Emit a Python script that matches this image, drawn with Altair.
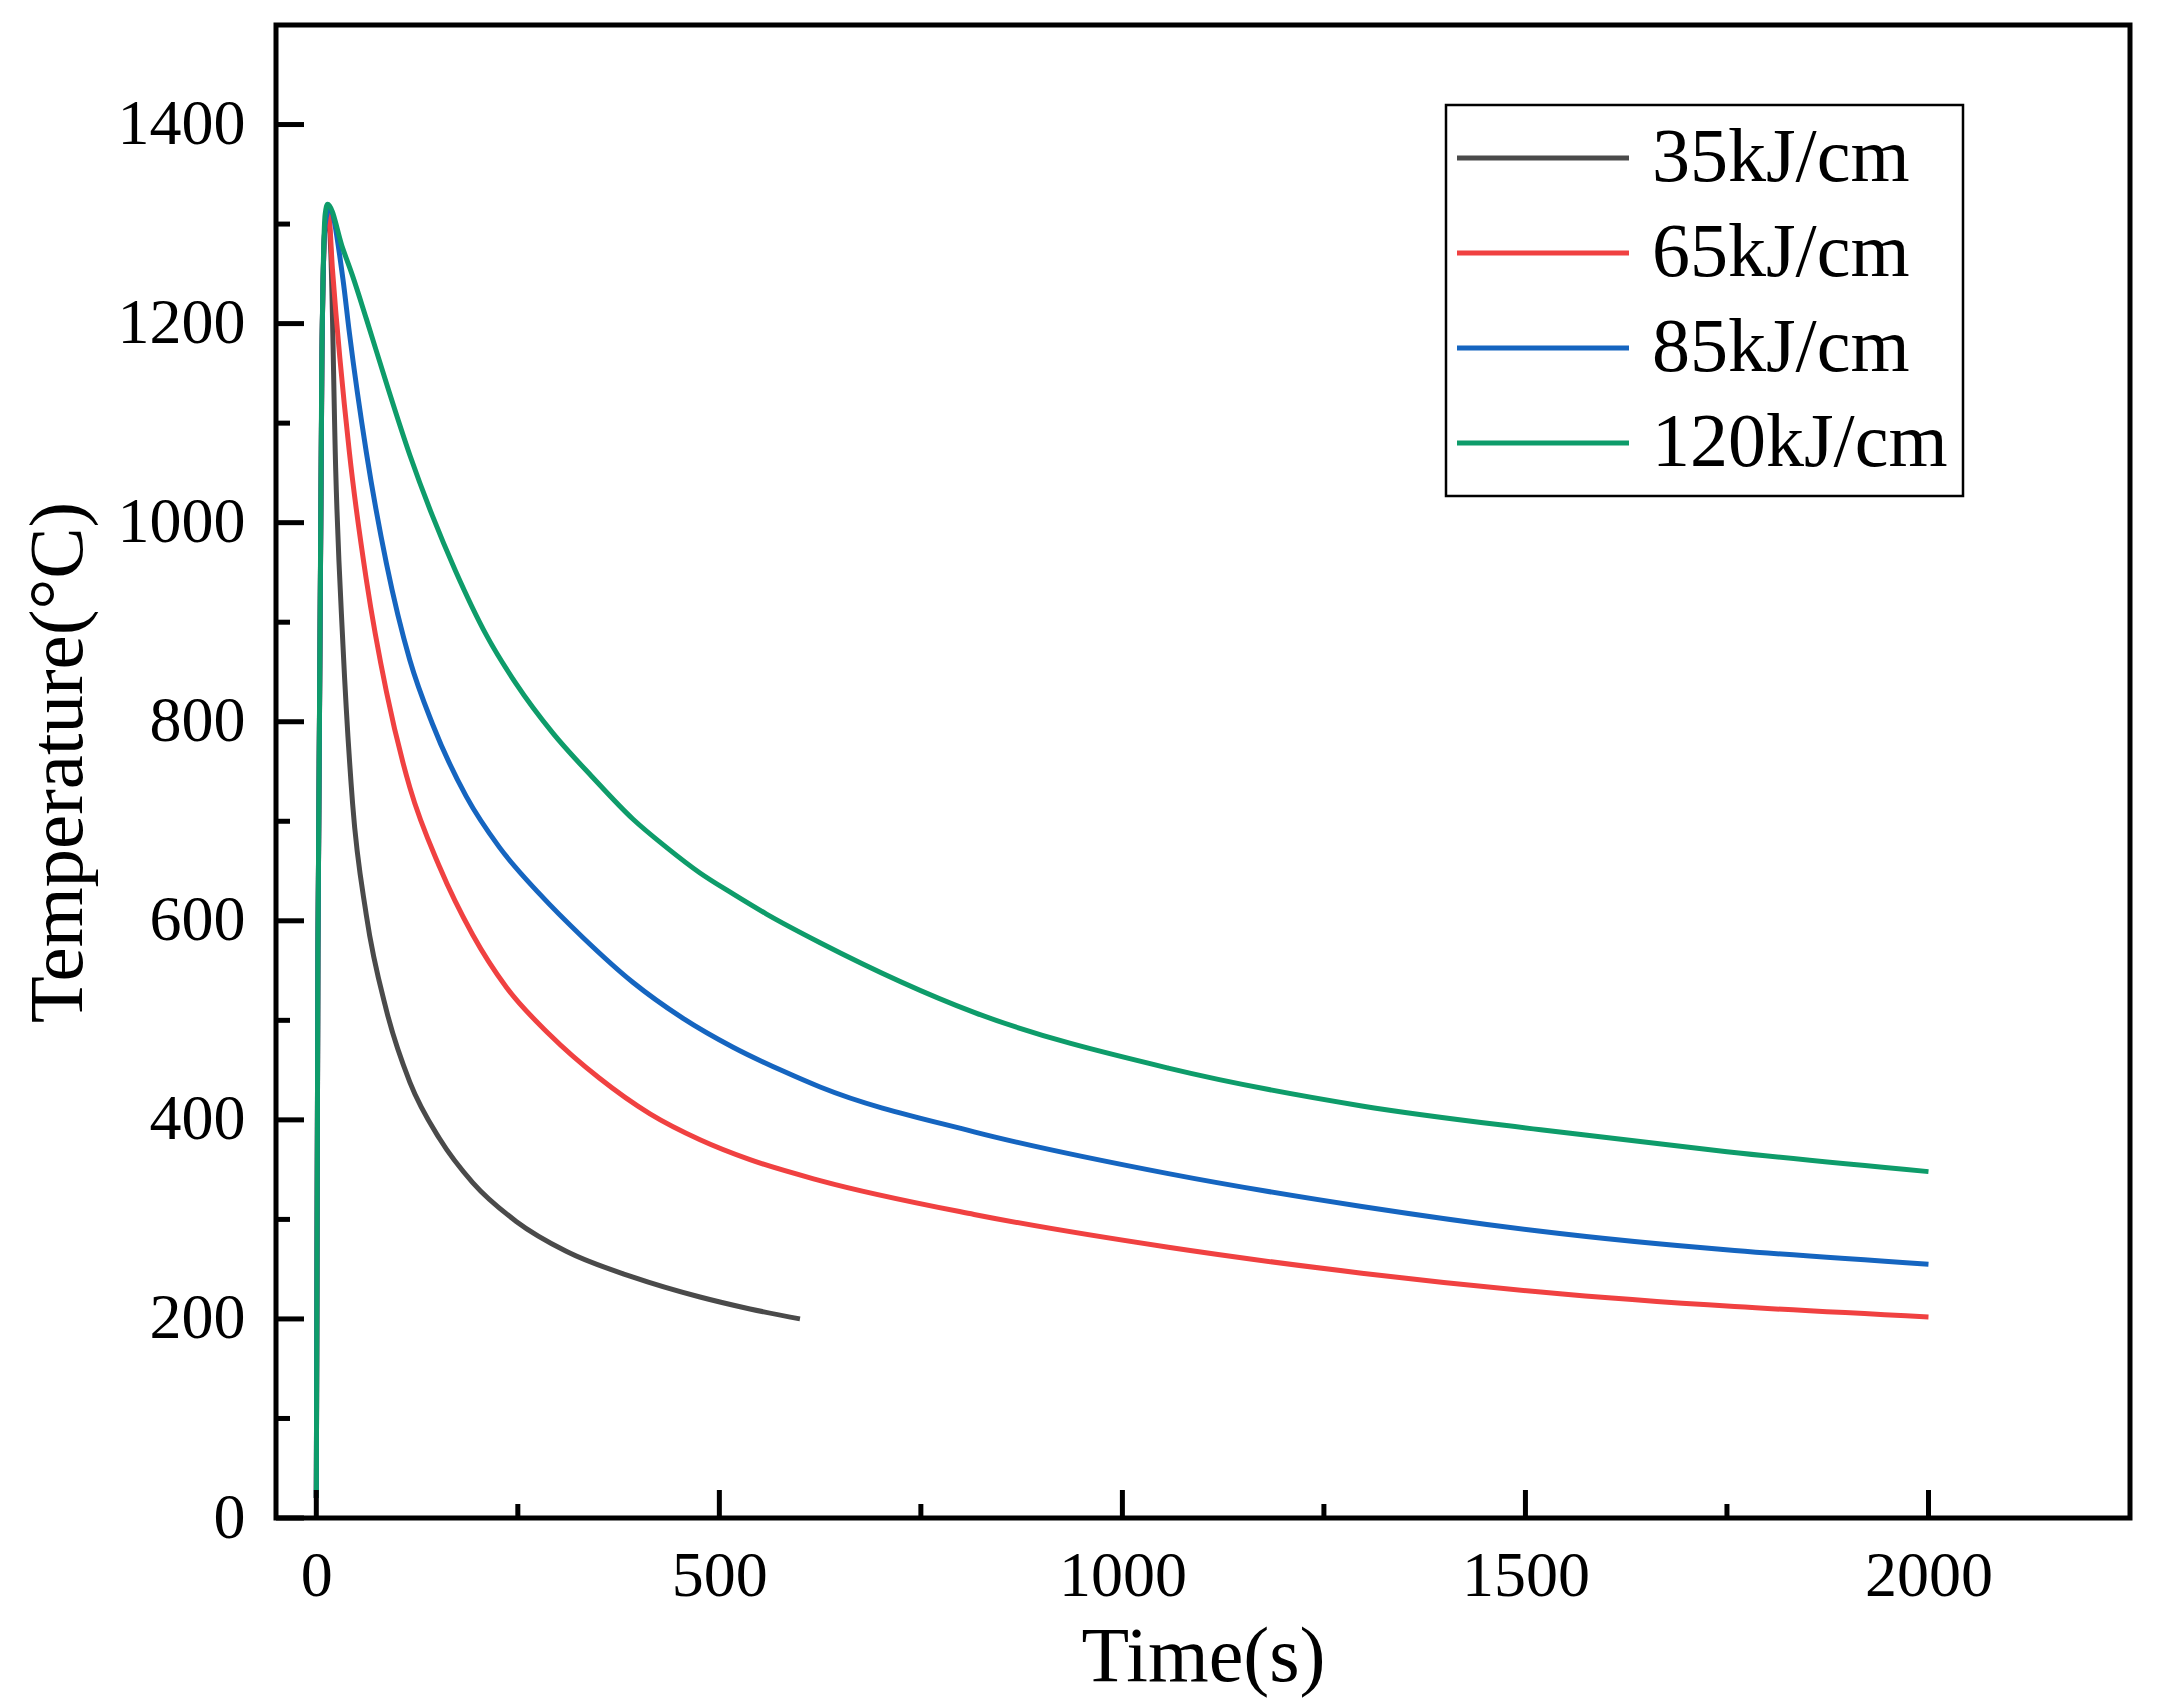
import altair as alt
import pandas as pd

# ---------------- data ----------------
series_labels = ["35kJ/cm", "65kJ/cm", "85kJ/cm", "120kJ/cm"]
series_colors = ["#4a4a4a", "#f04141", "#1565c0", "#0e9c6a"]

time_35 = [0, 2, 7, 11, 14, 18, 24, 33, 45, 62, 87, 116, 153, 194, 248, 310, 393, 476, 538, 600]
temp_35 = [20, 570, 1170, 1300, 1312, 1271, 1055, 878, 718, 606, 510, 438, 381, 337, 298, 268, 242, 222, 210, 200]

time_65 = [0, 2, 7, 11, 15, 20, 41, 62, 87, 116, 153, 194, 236, 289, 351, 414, 476, 538, 625, 816, 1057, 1297, 1519, 2000]
temp_65 = [20, 570, 1170, 1300, 1313, 1255, 1071, 943, 830, 734, 654, 586, 533, 486, 442, 406, 380, 360, 339, 305, 272, 246, 227, 202]

time_85 = [0, 2, 7, 11, 16, 33, 41, 62, 87, 116, 144, 186, 227, 277, 331, 393, 455, 517, 579, 625, 816, 1057, 1297, 1519, 2000]
temp_85 = [20, 570, 1170, 1300, 1315, 1245, 1191, 1071, 959, 862, 798, 725, 674, 627, 583, 538, 502, 473, 449, 433, 388, 346, 313, 288, 255]

time_120 = [0, 2, 7, 11, 14, 33, 45, 62, 87, 116, 144, 173, 211, 248, 294, 343, 393, 434, 476, 517, 558, 625, 816, 1057, 1297, 1519, 1750, 2000]
temp_120 = [20, 570, 1170, 1310, 1320, 1275, 1248, 1205, 1140, 1068, 1007, 951, 887, 838, 788, 744, 702, 674, 648, 627, 607, 578, 508, 452, 414, 390, 368, 348]

x_major = [0, 500, 1000, 1500, 2000]
x_minor = [250, 750, 1250, 1750]
y_major = [0, 200, 400, 600, 800, 1000, 1200, 1400]
y_minor = [100, 300, 500, 700, 900, 1100, 1300]

# ---------------- tables ----------------
rows = []
for lab, ts, vs in zip(series_labels,
                       [time_35, time_65, time_85, time_120],
                       [temp_35, temp_65, temp_85, temp_120]):
    for t, v in zip(ts, vs):
        rows.append({"series": lab, "t": t, "T": v})
df = pd.DataFrame(rows)

xmaj = pd.DataFrame({"v": x_major})
xmin = pd.DataFrame({"v": x_minor})
ymaj = pd.DataFrame({"v": y_major})
ymin = pd.DataFrame({"v": y_minor})

W, H = 1854, 1493
FONT = "Liberation Serif"
MAJ, MIN = 28, 14

x_scale = alt.Scale(domain=[-50, 2250], nice=False, zero=False)
y_scale = alt.Scale(domain=[0, 1500], nice=False, zero=False)

x_axis = alt.Axis(values=x_major, title="Time(s)", ticks=False, tickSize=0,
                  domain=False, grid=False, format="d",
                  labelFont=FONT, labelFontSize=64, labelColor="black",
                  labelPadding=58, labelBaseline="middle",
                  labelFlush=False, labelOverlap=False,
                  titleFont=FONT, titleFontSize=78, titleFontWeight="normal",
                  titleColor="black", titleX=927, titleY=139,
                  titleBaseline="middle", titleAlign="center")

y_axis = alt.Axis(values=y_major, title="Temperature(°C)", ticks=False, tickSize=0,
                  domain=False, grid=False, format="d",
                  labelFont=FONT, labelFontSize=64, labelColor="black",
                  labelPadding=31, labelFlush=False, labelOverlap=False,
                  titleFont=FONT, titleFontSize=77, titleFontWeight="normal",
                  titleColor="black", titleX=-218, titleY=737, titleAngle=270,
                  titleBaseline="middle", titleAlign="center")

lines = alt.Chart(df).mark_line(strokeWidth=5, interpolate="monotone").encode(
    x=alt.X("t:Q", scale=x_scale, axis=x_axis),
    y=alt.Y("T:Q", scale=y_scale, axis=y_axis),
    color=alt.Color("series:N",
                    scale=alt.Scale(domain=series_labels, range=series_colors),
                    legend=alt.Legend(title=None, orient="none", legendX=1170, legendY=80,
                                      direction="vertical",
                                      symbolType="M-3,0H3", symbolSize=3287,
                                      symbolStrokeWidth=5, symbolOffset=44,
                                      labelOffset=71, labelFont=FONT, labelFontSize=76,
                                      labelColor="black", labelLimit=800,
                                      rowPadding=19, padding=15,
                                      strokeColor="black")),
)


def xticks(data, length):
    return alt.Chart(data).mark_rule(color="black", strokeWidth=5, strokeCap="butt").encode(
        x=alt.X("v:Q", scale=x_scale, axis=x_axis),
        y=alt.value(H),
        y2=alt.value(H - length),
    )


def yticks(data, length):
    return alt.Chart(data).mark_rule(color="black", strokeWidth=5, strokeCap="butt").encode(
        y=alt.Y("v:Q", scale=y_scale, axis=y_axis),
        x=alt.value(0),
        x2=alt.value(length),
    )


chart = alt.layer(
    lines,
    xticks(xmaj, MAJ), xticks(xmin, MIN),
    yticks(ymaj, MAJ), yticks(ymin, MIN),
).properties(
    width=W, height=H,
    autosize=alt.AutoSizeParams(type="none"),
    padding={"left": 268, "top": 17, "right": 18, "bottom": 186},
    background="white",
).configure_view(
    stroke="black", strokeWidth=5
).configure_legend(
    strokeWidth=2.5
)

chart.save("out.html", embed_options={"renderer": "svg", "actions": False})
